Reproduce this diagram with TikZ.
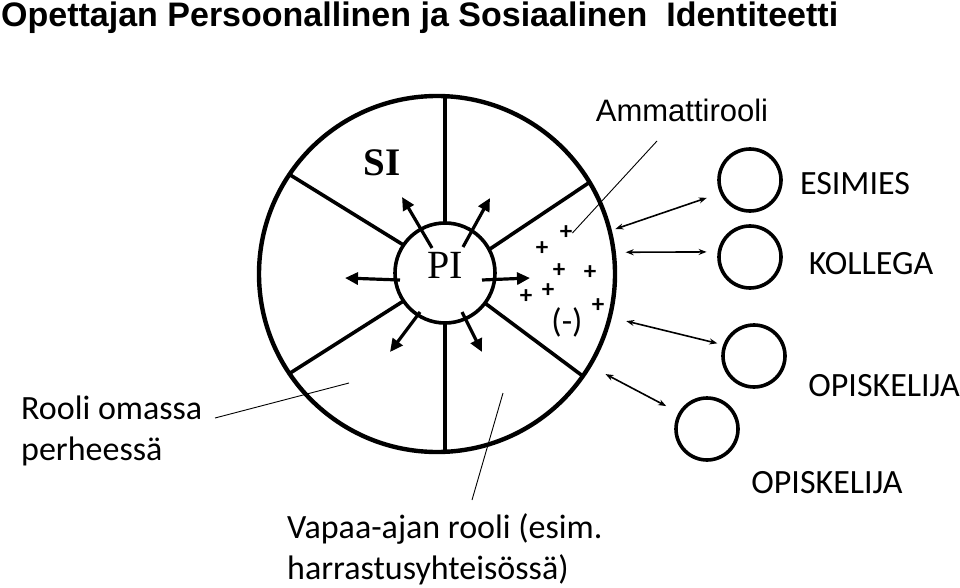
\documentclass[tikz,border=0pt]{standalone}
\usepackage{fontspec}
\setmainfont{Carlito}
\newfontfamily\headfont{Liberation Sans}
\newfontfamily\wheelfont{Liberation Serif}
\usetikzlibrary{positioning, arrows.meta}

\begin{document}
\begin{tikzpicture}[
  x=1pt, y=-1pt,
  wheel/.style={circle, draw, line width=4.4pt, outer sep=0pt, inner sep=0pt, minimum size=356pt},
  hub/.style={circle, draw, line width=3.6pt, outer sep=0pt, inner sep=0pt, minimum size=100pt},
  other/.style={circle, draw, line width=3.6pt, inner sep=0pt, minimum size=62pt},
  spoke/.style={line width=3.6pt},
  ray/.style={-{Triangle[length=13pt, width=12pt]}, line width=3.2pt},
  link/.style={{Stealth[length=8pt, width=6pt]}-{Stealth[length=8pt, width=6pt]}, line width=1.6pt},
  leader/.style={line width=0.9pt},
  label/.style={font=\fontsize{34}{41}\selectfont, align=left, inner sep=0pt},
  plus/.style={font=\fontsize{25}{25}\selectfont\bfseries, inner sep=0pt},
]
  \useasboundingbox (0,0) rectangle (960,588);

  \node[anchor=base west, inner sep=0pt, font=\headfont\fontsize{34}{38}\selectfont\bfseries]
    (title) at (1,27) {Opettajan Persoonallinen ja Sosiaalinen~ Identiteetti};

  \node[wheel] (wheel) at (437,274) {};
  \node[hub] (hub) at (445,273) {};

  \draw[spoke] (hub.north) -- (hub.north |- wheel.north);
  \draw[spoke] (hub.south) -- (hub.south |- wheel.south);
  \draw[spoke] (hub.28) -- (wheel.31);
  \draw[spoke] (hub.146) -- (wheel.146);
  \draw[spoke] (hub.214) -- (wheel.214);
  \draw[spoke] (hub.323) -- (wheel.325);

  \node[font=\wheelfont\fontsize{39}{39}\selectfont\bfseries, inner sep=0pt] (si) at (382,163) {SI};
  \node[font=\wheelfont\fontsize{40}{40}\selectfont, inner sep=0pt] (pi) at (445,265) {PI};

  \coordinate (r1a) at (432,248); \coordinate (r1b) at (402,197);
  \coordinate (r2a) at (463,247); \coordinate (r2b) at (490,198);
  \coordinate (r3a) at (400,280); \coordinate (r3b) at (345,278);
  \coordinate (r4a) at (482,280); \coordinate (r4b) at (530,278);
  \coordinate (r5a) at (420,312); \coordinate (r5b) at (390,352);
  \coordinate (r6a) at (462,312); \coordinate (r6b) at (482,352);
  \draw[ray] (r1a) -- (r1b);
  \draw[ray] (r2a) -- (r2b);
  \draw[ray] (r3a) -- (r3b);
  \draw[ray] (r4a) -- (r4b);
  \draw[ray] (r5a) -- (r5b);
  \draw[ray] (r6a) -- (r6b);

  \node[plus] (p1) at (566,233) {+};
  \node[plus] (p2) at (542,249) {+};
  \node[plus] (p3) at (559,271) {+};
  \node[plus] (p4) at (590,273) {+};
  \node[plus] (p5) at (548,291) {+};
  \node[plus] (p6) at (526,297) {+};
  \node[plus] (p7) at (598,306) {+};
  \node[label] (minus) at (567,322) {(-)};

  \node[font=\headfont\fontsize{31}{34}\selectfont, inner sep=0pt] (amm) at (682,110) {Ammattirooli};
  \coordinate (ammtip) at (657,141);
  \draw[leader] (ammtip) -- (p1.east);

  \node[other] (esimies) at (750,180) {};
  \node[other] (kollega) at (750,257) {};
  \node[other] (opisk1) at (754,356) {};
  \node[other] (opisk2) at (707,429) {};

  \node[label] (esimieslbl) at (855,184) {ESIMIES};
  \node[label] (kollegalbl) at (871,264) {KOLLEGA};
  \node[label] (opisk1lbl) at (884,386) {OPISKELIJA};
  \node[label] (opisk2lbl) at (827,483) {OPISKELIJA};

  \draw[link, shorten <=6pt, shorten >=14pt] (wheel.14) -- (esimies.204);
  \draw[link, shorten <=12pt, shorten >=11pt] (wheel.7) -- (kollega.171);
  \draw[link, shorten <=17pt, shorten >=6pt] (wheel.346) -- (opisk1.160);
  \draw[link, shorten <=18pt, shorten >=14pt] (wheel.329) -- (opisk2.150);

  \node[label, anchor=west] (perhe) at (21,431) {Rooli omassa\\perheessä};
  \coordinate (perheend) at (215,418);
  \coordinate (perhetip) at (349,383);
  \draw[leader] (perheend) -- (perhetip);

  \node[label, anchor=west] (vapaa) at (287,549) {Vapaa-ajan rooli (esim.\\harrastusyhteisössä)};
  \coordinate (vapaatip) at (503,393);
  \coordinate (vapaaend) at (472,500);
  \draw[leader] (vapaaend) -- (vapaatip);
\end{tikzpicture}
\end{document}
